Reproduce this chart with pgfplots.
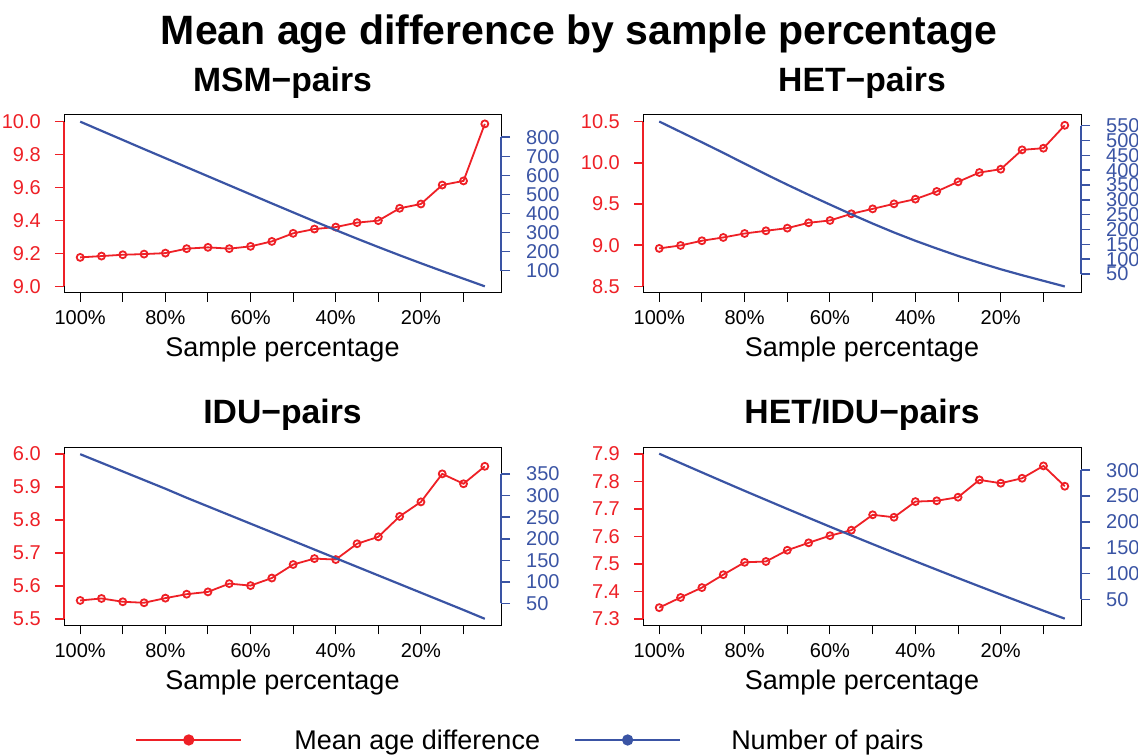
\documentclass[border=0pt]{standalone}
\usepackage{fontspec}
\setmainfont{Liberation Sans}
\usepackage{pgfplots}
\pgfplotsset{compat=1.18}
\definecolor{rred}{RGB}{238,32,38}
\definecolor{rblue}{RGB}{58,84,164}
\newcommand{\tickfont}{\fontsize{20bp}{20bp}\selectfont}

\pgfplotsset{
  redax/.style={
    scale only axis, width=437bp, height=178bp, anchor=south west,
    xmin=-0.76, xmax=19.76, clip=false,
    axis line style={black, line width=1bp},
    tick align=outside, major tick length=9bp,
    xtick pos=left, ytick pos=left,
    xtick={0,2,...,18}, xticklabels={100\%,,80\%,,60\%,,40\%,,20\%,},
    x tick style={black, line width=1bp},
    y tick style={rred, line width=1.6bp},
    xticklabel style={font=\tickfont, inner sep=0pt, anchor=base, yshift=-23bp},
    yticklabel style={font=\tickfont, text=rred, inner sep=0pt, anchor=east, xshift=-14bp,
      /pgf/number format/.cd, fixed, fixed zerofill, precision=1, assume math mode=true},
    xlabel={Sample percentage},
    xlabel style={font=\fontsize{27bp}{27bp}\selectfont, at={(axis description cs:0.5,0)}, anchor=base, yshift=-64bp, inner sep=0pt},
    title style={font=\fontsize{33.7bp}{34bp}\selectfont\bfseries, at={(axis description cs:0.5,1)}, anchor=base, yshift=18bp, inner sep=0pt},
  },
  blueax/.style={
    scale only axis, width=437bp, height=178bp, anchor=south west,
    xmin=-0.76, xmax=19.76, clip=false,
    axis x line=none, axis y line*=right,
    y axis line style={draw=none},
    tick align=outside, major tick length=9bp, ytick pos=right,
    y tick style={rblue, line width=1.6bp},
    yticklabel style={font=\tickfont, text=rblue, inner sep=0pt, anchor=west, xshift=16bp,
      /pgf/number format/.cd, fixed, precision=0, assume math mode=true},
  },
  redline/.style={rred, line width=1.8bp, mark=o, mark size=3.5bp, mark options={line width=1.8bp, fill=white}},
  blueline/.style={rblue, line width=2.2bp, no markers},
}

\begin{document}
\begin{tikzpicture}
\path[use as bounding box] (0,0) rectangle (1138bp,756bp);

\node[font=\fontsize{41bp}{41bp}\selectfont\bfseries, anchor=base, inner sep=0pt] at (579bp,711bp) {Mean age difference by sample percentage};

% ---------- MSM ----------
\begin{axis}[redax, at={(64bp,463bp)}, ymin=8.96, ymax=10.04, ytick={9,9.2,9.4,9.6,9.8,10}, title={MSM−pairs}]
\addplot[redline] coordinates {(0,9.176) (1,9.184) (2,9.192) (3,9.196) (4,9.202) (5,9.229) (6,9.237) (7,9.229) (8,9.243) (9,9.273) (10,9.322) (11,9.348) (12,9.360) (13,9.387) (14,9.399) (15,9.474) (16,9.500) (17,9.615) (18,9.640) (19,9.986)};
\draw[rred, line width=1.6bp] (axis cs:-0.76,9) -- (axis cs:-0.76,10);
\end{axis}
\begin{axis}[blueax, at={(64bp,463bp)}, ymin=-17, ymax=917, ytick={100,200,...,800}]
\addplot[blueline] coordinates {(0,882) (1,834) (2,786) (3,738) (4,690.5) (5,643) (6,595.5) (7,548) (8,500.5) (9,453) (10,406) (11,359) (12,313) (13,268) (14,224) (15,181) (16,139) (17,98) (18,58) (19,18)};
\draw[rblue, line width=1.6bp] (axis cs:19.76,100) -- (axis cs:19.76,800);
\end{axis}

% ---------- HET ----------
\begin{axis}[redax, at={(643bp,463bp)}, width=438bp, ymin=8.42, ymax=10.58, ytick={8.5,9,9.5,10,10.5}, title={HET−pairs}]
\addplot[redline] coordinates {(0,8.961) (1,8.997) (2,9.054) (3,9.094) (4,9.142) (5,9.175) (6,9.207) (7,9.272) (8,9.300) (9,9.381) (10,9.441) (11,9.502) (12,9.559) (13,9.652) (14,9.769) (15,9.882) (16,9.922) (17,10.157) (18,10.177) (19,10.455)};
\draw[rred, line width=1.6bp] (axis cs:-0.76,8.5) -- (axis cs:-0.76,10.5);
\end{axis}
\begin{axis}[blueax, at={(643bp,463bp)}, width=438bp, ymin=-14, ymax=586, ytick={50,100,...,550}]
\addplot[blueline] coordinates {(0,564) (1,529) (2,494) (3,458.5) (4,422) (5,386) (6,351) (7,317) (8,284) (9,251.5) (10,220) (11,190) (12,162) (13,136) (14,111) (15,88) (16,66) (17,46) (18,27) (19,8)};
\draw[rblue, line width=1.6bp] (axis cs:19.76,50) -- (axis cs:19.76,550);
\end{axis}

% ---------- IDU ----------
\begin{axis}[redax, at={(64bp,130.5bp)}, ymin=5.48, ymax=6.02, ytick={5.5,5.6,5.7,5.8,5.9,6.0}, title={IDU−pairs}]
\addplot[redline] coordinates {(0,5.556) (1,5.562) (2,5.552) (3,5.549) (4,5.563) (5,5.575) (6,5.582) (7,5.607) (8,5.601) (9,5.624) (10,5.665) (11,5.683) (12,5.680) (13,5.728) (14,5.749) (15,5.811) (16,5.855) (17,5.940) (18,5.910) (19,5.963)};
\draw[rred, line width=1.6bp] (axis cs:-0.76,5.5) -- (axis cs:-0.76,6.0);
\end{axis}
\begin{axis}[blueax, at={(64bp,130.5bp)}, ymin=-1, ymax=411.5, ytick={50,100,...,350}]
\addplot[blueline] coordinates {(0,396) (1,376) (2,356) (3,336) (4,316) (5,295) (6,275) (7,255) (8,235) (9,215) (10,195) (11,175) (12,155) (13,135) (14,115) (15,95) (16,75) (17,55) (18,35) (19,14.5)};
\draw[rblue, line width=1.6bp] (axis cs:19.76,50) -- (axis cs:19.76,350);
\end{axis}

% ---------- HET/IDU ----------
\begin{axis}[redax, at={(643bp,130.5bp)}, width=438bp, ymin=7.276, ymax=7.924, ytick={7.3,7.4,7.5,7.6,7.7,7.8,7.9}, title={HET/IDU−pairs}]
\addplot[redline] coordinates {(0,7.341) (1,7.378) (2,7.414) (3,7.461) (4,7.506) (5,7.509) (6,7.550) (7,7.577) (8,7.603) (9,7.623) (10,7.679) (11,7.670) (12,7.727) (13,7.730) (14,7.743) (15,7.806) (16,7.794) (17,7.812) (18,7.857) (19,7.783)};
\draw[rred, line width=1.6bp] (axis cs:-0.76,7.3) -- (axis cs:-0.76,7.9);
\end{axis}
\begin{axis}[blueax, at={(643bp,130.5bp)}, width=438bp, ymin=-0.5, ymax=344, ytick={50,100,...,300}]
\addplot[blueline] coordinates {(0,332) (1,313.8) (2,295.8) (3,277.9) (4,260.1) (5,242.6) (6,225.1) (7,207.9) (8,190.7) (9,173.8) (10,157) (11,140.3) (12,123.8) (13,107.5) (14,91.3) (15,75.3) (16,59.4) (17,43.7) (18,28.1) (19,12.7)};
\draw[rblue, line width=1.6bp] (axis cs:19.76,50) -- (axis cs:19.76,300);
\end{axis}

% ---------- legend ----------
\begin{axis}[hide axis, scale only axis, width=1138bp, height=756bp, at={(0bp,0bp)}, anchor=south west,
  xmin=0, xmax=1, ymin=0, ymax=1, legend columns=2,
  legend style={at={(0.1186,0.0212)}, anchor=west, draw=none, fill=none, inner sep=0pt,
    font=\fontsize{27bp}{27bp}\selectfont, column sep=0pt, nodes={inner sep=0pt}},
  legend image code/.code={\draw[#1, mark repeat=2, mark phase=2] plot coordinates {(0bp,0bp) (52.5bp,0bp) (105bp,0bp)};}]
\addlegendimage{rred, line width=2.2bp, mark=*, mark size=4.5bp}
\addlegendentry{\hspace*{52bp}Mean age difference\hspace*{34bp}}
\addlegendimage{rblue, line width=2.2bp, mark=*, mark size=4.5bp}
\addlegendentry{\hspace*{50bp}Number of pairs}
\end{axis}
\end{tikzpicture}
\end{document}
